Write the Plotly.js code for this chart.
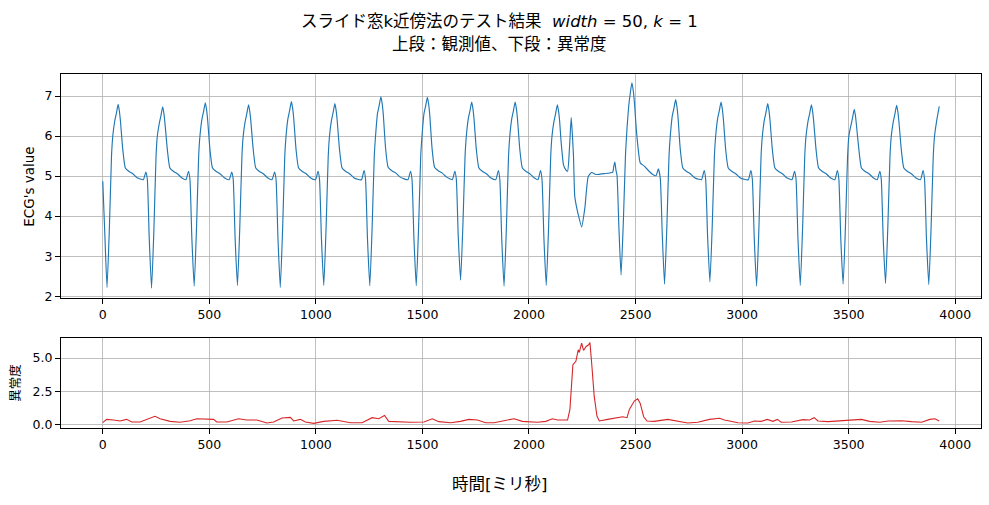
<!DOCTYPE html>
<html>
<head>
<meta charset="utf-8">
<script src="https://cdn.plot.ly/plotly-3.0.1.min.js"></script>
<style>
  html, body { margin: 0; padding: 0; background: #fff; }
  #chart { width: 989px; height: 505px; }
</style>
</head>
<body>
<div id="chart"></div>
<script>
var ecgTime = [
  0, 10, 20, 31, 41, 47, 56, 64, 72, 78, 83, 94, 106, 122, 141, 161,
  190, 202, 209, 218, 229, 240, 250, 256, 265, 273, 281, 287, 292, 303, 315, 331, 350, 370,
  390, 402, 409, 418, 429, 440, 450, 456, 465, 473, 481, 487, 492, 503, 515, 531, 550, 570,
  593, 605, 612, 621, 632, 643, 653, 659, 668, 676, 684, 690, 695, 706, 718, 734, 753, 773,
  794, 806, 813, 822, 833, 844, 854, 860, 869, 877, 885, 891, 896, 907, 919, 935, 954, 974,
  998, 1010, 1017, 1026, 1037, 1048, 1058, 1064, 1073, 1081, 1089, 1095, 1100, 1111, 1123, 1139, 1158, 1178, 1196,
  1214, 1226, 1233, 1242, 1253, 1264, 1274, 1280, 1289, 1297, 1305, 1311, 1316, 1327, 1339, 1355, 1374, 1394, 1414,
  1432, 1444, 1451, 1460, 1471, 1482, 1492, 1498, 1507, 1515, 1523, 1529, 1534, 1545, 1557, 1573, 1592, 1612, 1626,
  1640, 1652, 1659, 1668, 1679, 1690, 1700, 1706, 1715, 1723, 1731, 1737, 1742, 1753, 1765, 1781, 1800, 1820,
  1844, 1856, 1863, 1872, 1883, 1894, 1904, 1910, 1919, 1927, 1935, 1941, 1946, 1957, 1969, 1985, 2004, 2024,
  2042, 2054, 2061, 2070, 2081, 2092, 2102, 2108, 2117, 2125, 2133, 2139, 2144, 2150, 2162, 2172, 2181,
  2190, 2198, 2204, 2209, 2215, 2231, 2247, 2262, 2278, 2294, 2314, 2353, 2393, 2398, 2403, 2408, 2413, 2422,
  2432, 2443, 2453, 2460, 2468, 2476, 2483, 2490, 2496, 2502, 2512, 2522, 2541, 2560, 2581, 2596, 2607, 2616, 2625,
  2636, 2647, 2657, 2663, 2672, 2680, 2688, 2694, 2699, 2710, 2722, 2738, 2757, 2777, 2797,
  2810, 2822, 2829, 2838, 2849, 2860, 2870, 2876, 2885, 2893, 2901, 2907, 2912, 2923, 2935, 2951, 2970, 2990, 3010,
  3029, 3041, 3048, 3057, 3068, 3079, 3089, 3095, 3104, 3112, 3120, 3126, 3131, 3142, 3154, 3170, 3189, 3209,
  3234, 3246, 3253, 3262, 3273, 3284, 3294, 3300, 3309, 3317, 3325, 3331, 3336, 3347, 3359, 3375, 3394, 3414,
  3435, 3447, 3454, 3463, 3474, 3485, 3495, 3501, 3510, 3518, 3526, 3532, 3537, 3548, 3560, 3576, 3595, 3615,
  3634, 3646, 3653, 3662, 3673, 3684, 3694, 3700, 3709, 3717, 3725, 3731, 3736, 3747, 3759, 3775, 3794, 3814,
  3837, 3849, 3856, 3865, 3876, 3887, 3897, 3903, 3912, 3925
];
var ecgValue = [
  4.87, 3.50, 2.22, 3.70, 5.50, 6.00, 6.37, 6.57, 6.79, 6.62, 6.37, 5.66, 5.20, 5.12, 5.06, 4.96,
  4.91, 5.10, 4.92, 3.45, 2.20, 3.68, 5.50, 6.00, 6.31, 6.51, 6.73, 6.56, 6.31, 5.66, 5.20, 5.12, 5.06, 4.96,
  4.91, 5.12, 4.92, 3.45, 2.25, 3.72, 5.50, 6.00, 6.41, 6.61, 6.83, 6.66, 6.41, 5.66, 5.20, 5.12, 5.06, 4.96,
  4.91, 5.10, 4.92, 3.45, 2.27, 3.73, 5.50, 6.00, 6.36, 6.56, 6.78, 6.61, 6.36, 5.66, 5.20, 5.12, 5.06, 4.96,
  4.91, 5.10, 4.92, 3.45, 2.22, 3.70, 5.50, 6.00, 6.44, 6.64, 6.86, 6.69, 6.44, 5.66, 5.20, 5.12, 5.06, 4.96,
  4.91, 5.12, 4.92, 3.45, 2.27, 3.73, 5.50, 6.00, 6.39, 6.59, 6.81, 6.64, 6.39, 5.66, 5.20, 5.12, 5.06, 4.96, 4.92,
  4.91, 5.14, 4.92, 3.45, 2.26, 3.72, 5.50, 6.00, 6.56, 6.76, 6.98, 6.81, 6.56, 5.70, 5.22, 5.14, 5.08, 4.98, 4.93,
  4.91, 5.12, 4.92, 3.45, 2.26, 3.72, 5.50, 6.00, 6.55, 6.75, 6.97, 6.80, 6.55, 5.70, 5.22, 5.14, 5.08, 4.98, 4.94,
  4.91, 5.12, 4.92, 3.50, 2.40, 3.80, 5.50, 6.00, 6.43, 6.63, 6.85, 6.68, 6.43, 5.66, 5.20, 5.12, 5.06, 4.96,
  4.91, 5.14, 4.92, 3.45, 2.25, 3.72, 5.50, 6.00, 6.43, 6.63, 6.85, 6.68, 6.43, 5.66, 5.20, 5.12, 5.06, 4.96,
  4.91, 5.14, 4.92, 3.45, 2.27, 3.73, 5.50, 6.00, 6.36, 6.56, 6.78, 6.61, 6.36, 5.90, 5.28, 5.16, 5.12,
  5.70, 6.46, 6.00, 5.47, 4.48, 4.04, 3.73, 4.20, 4.99, 5.09, 5.04, 5.06, 5.10, 5.25, 5.35, 5.15, 5.02, 3.70,
  2.53, 3.90, 5.55, 6.20, 6.75, 7.10, 7.33, 7.10, 6.75, 6.28, 5.70, 5.33, 5.25, 5.14, 5.04, 5.01, 5.18, 4.95, 3.60,
  2.30, 3.75, 5.50, 6.00, 6.49, 6.69, 6.91, 6.74, 6.49, 5.66, 5.20, 5.12, 5.06, 4.96, 4.92,
  4.91, 5.14, 4.92, 3.50, 2.36, 3.78, 5.50, 6.00, 6.43, 6.63, 6.85, 6.68, 6.43, 5.66, 5.20, 5.12, 5.06, 4.96, 4.92,
  4.91, 5.14, 4.92, 3.45, 2.25, 3.72, 5.50, 6.00, 6.39, 6.59, 6.81, 6.64, 6.39, 5.66, 5.20, 5.12, 5.06, 4.96,
  4.91, 5.12, 4.92, 3.45, 2.27, 3.73, 5.50, 6.00, 6.36, 6.56, 6.78, 6.61, 6.36, 5.66, 5.20, 5.12, 5.06, 4.96,
  4.91, 5.14, 4.92, 3.45, 2.30, 3.75, 5.50, 6.00, 6.25, 6.45, 6.67, 6.50, 6.25, 5.66, 5.20, 5.12, 5.06, 4.96,
  4.91, 5.12, 4.92, 3.45, 2.32, 3.76, 5.50, 6.00, 6.35, 6.55, 6.77, 6.60, 6.35, 5.66, 5.20, 5.12, 5.06, 4.96,
  4.91, 5.14, 4.92, 3.45, 2.29, 3.74, 5.50, 6.00, 6.35, 6.74
];

// anomaly score (sliding window kNN distance)
var scoreTime = [
  0, 18, 50, 81, 112, 136, 175, 206, 245, 269, 316, 363, 410, 441, 488, 520, 535, 582,
  637, 676, 723, 770, 802, 841, 880, 896, 927, 951, 990, 1037, 1100, 1131, 1162, 1217,
  1264, 1295, 1322, 1342, 1382, 1444, 1507, 1546, 1577, 1632, 1679, 1718, 1758, 1797,
  1836, 1883, 1930, 1969, 1993, 2040, 2079, 2110, 2134, 2181, 2192, 2200, 2206, 2220,
  2231, 2236, 2247, 2256, 2268, 2280, 2286, 2294, 2306, 2319, 2330, 2369, 2408, 2440,
  2460, 2471, 2494, 2510, 2522, 2538, 2554, 2588, 2651, 2690, 2745, 2792, 2847, 2894,
  2917, 2941, 2980, 3027, 3058, 3090, 3118, 3145, 3165, 3184, 3231, 3286, 3317, 3338,
  3356, 3403, 3450, 3513, 3560, 3599, 3646, 3685, 3748, 3795, 3842, 3881, 3905, 3925
];
var scoreValue = [
  0.12, 0.37, 0.32, 0.25, 0.37, 0.17, 0.17, 0.37, 0.60, 0.42, 0.22, 0.15, 0.27, 0.42, 0.37, 0.37, 0.17, 0.17,
  0.42, 0.32, 0.32, 0.10, 0.17, 0.47, 0.52, 0.25, 0.37, 0.17, 0.07, 0.22, 0.30, 0.22, 0.12, 0.12,
  0.50, 0.42, 0.67, 0.22, 0.17, 0.15, 0.17, 0.42, 0.20, 0.12, 0.22, 0.37, 0.32, 0.12,
  0.12, 0.27, 0.42, 0.22, 0.20, 0.15, 0.22, 0.42, 0.32, 0.32, 1.12, 3.37, 4.50, 4.75,
  5.62, 5.42, 6.12, 5.57, 5.87, 6.00, 6.17, 4.62, 2.12, 0.62, 0.25, 0.37, 0.47, 0.57,
  0.50, 1.12, 1.75, 1.92, 1.57, 0.57, 0.25, 0.22, 0.37, 0.25, 0.10, 0.15, 0.37, 0.45,
  0.32, 0.25, 0.12, 0.10, 0.25, 0.22, 0.37, 0.22, 0.37, 0.15, 0.17, 0.35, 0.32, 0.50,
  0.25, 0.20, 0.25, 0.32, 0.37, 0.22, 0.15, 0.25, 0.27, 0.20, 0.15, 0.37, 0.42, 0.25
];

var xTicks = [0, 500, 1000, 1500, 2000, 2500, 3000, 3500, 4000];
var ecgTicks = [2, 3, 4, 5, 6, 7];
var scoreTicks = [0.0, 2.5, 5.0];

var baseFont = 'DejaVu Sans, Noto Sans CJK JP, sans-serif';

var data = [
  {
    x: ecgTime, y: ecgValue, xaxis: 'x', yaxis: 'y',
    type: 'scatter', mode: 'lines',
    line: {color: '#1f77b4', width: 1.15, shape: 'spline', smoothing: 0.5}
  },
  {
    x: scoreTime, y: scoreValue, xaxis: 'x2', yaxis: 'y2',
    type: 'scatter', mode: 'lines',
    line: {color: '#d62728', width: 1.1}
  }
];

function axisStyle(extra) {
  var a = {
    showline: true, mirror: true, linecolor: '#000', linewidth: 1,
    ticks: 'outside', ticklen: 5, tickcolor: '#000', tickwidth: 1,
    showgrid: true, gridcolor: '#b0b0b0', gridwidth: 0.8,
    zeroline: false,
    tickfont: {family: baseFont, size: 12.5, color: '#000'}
  };
  for (var k in extra) a[k] = extra[k];
  return a;
}

var layout = {
  width: 989, height: 505,
  margin: {l: 61, r: 8, t: 74, b: 77},
  paper_bgcolor: '#fff', plot_bgcolor: '#fff',
  showlegend: false,
  font: {family: baseFont, color: '#000'},
  xaxis: axisStyle({anchor: 'y', range: [-196, 4121], tickvals: xTicks}),
  yaxis: axisStyle({domain: [0.3667, 1], range: [1.95, 7.55], tickvals: ecgTicks}),
  xaxis2: axisStyle({anchor: 'y2', range: [-196, 4121], tickvals: xTicks}),
  yaxis2: axisStyle({domain: [0, 0.2542], range: [-0.28, 6.51], tickvals: scoreTicks,
                     ticktext: ['0.0', '2.5', '5.0']}),
  annotations: [
    {text: 'スライド窓k近傍法のテスト結果  <i>width</i> = 50, <i>k</i> = 1',
     xref: 'paper', yref: 'paper', x: 0.4761, y: 1.147, xanchor: 'center', yanchor: 'middle',
     showarrow: false, font: {size: 16.5}},
    {text: '上段：観測値、下段：異常度',
     xref: 'paper', yref: 'paper', x: 0.4761, y: 1.083, xanchor: 'center', yanchor: 'middle',
     showarrow: false, font: {size: 16.5}},
    {text: "ECG's value",
     xref: 'paper', yref: 'paper', x: -0.0348, y: 0.6816, xanchor: 'center', yanchor: 'middle',
     textangle: -90, showarrow: false, font: {size: 13.5}},
    {text: '異常度',
     xref: 'paper', yref: 'paper', x: -0.0489, y: 0.128, xanchor: 'center', yanchor: 'middle',
     textangle: -90, showarrow: false, font: {size: 12.5}},
    {text: '時間[ミリ秒]',
     xref: 'paper', yref: 'paper', x: 0.4761, y: -0.160, xanchor: 'center', yanchor: 'middle',
     showarrow: false, font: {size: 16.5}}
  ]
};

Plotly.newPlot('chart', data, layout, {staticPlot: true, displayModeBar: false});
</script>
</body>
</html>
